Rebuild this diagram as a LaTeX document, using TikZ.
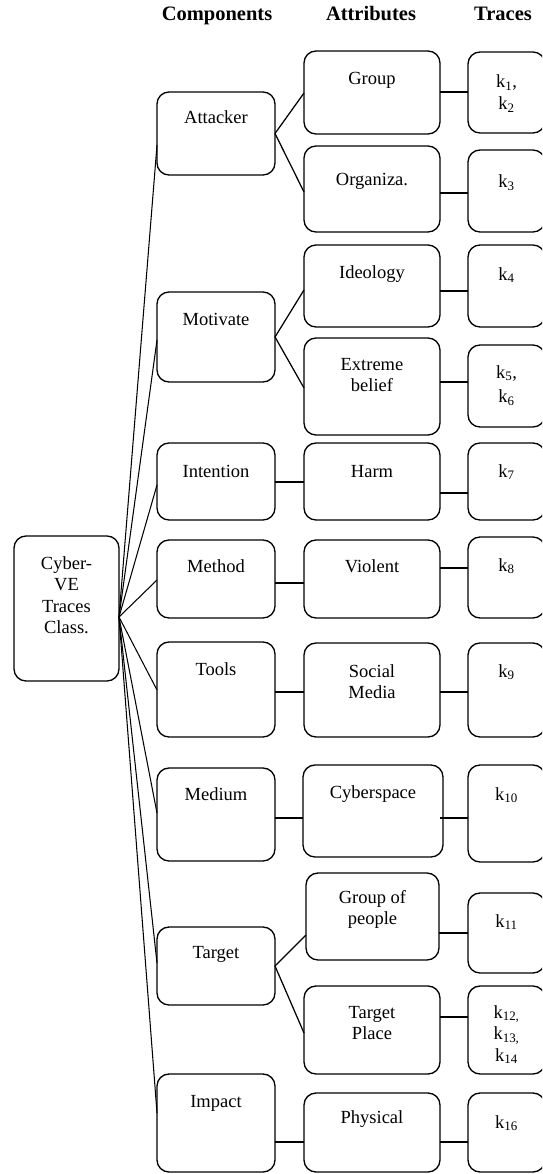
\documentclass[tikz,border=0pt]{standalone}
\usepackage{fontspec}
\setmainfont{Liberation Serif}
\usetikzlibrary{calc}

% box body: width, height, depth of first baseline, text (top aligned, centred)
\newcommand\cellbox[4]{\parbox[c][#2pt][t]{#1pt}{\centering\rule{0pt}{#3pt}#4\par}}
\newcommand\kk[1]{k\textsubscript{#1}}

\tikzset{
  every node/.style={font=\fontsize{18.5}{21.5}\selectfont},
  cell/.style={draw, rounded corners=12pt, line width=1.35pt, inner sep=0pt, outer sep=0pt},
  head/.style={font=\fontsize{20.5}{24}\selectfont\bfseries, anchor=base, inner sep=0pt},
  spoke/.style={line width=1.05pt},
  branch/.style={line width=1.25pt},
  tie/.style={line width=2.3pt},
}

\begin{document}
\begin{tikzpicture}[x=1pt,y=-1pt]
\useasboundingbox (0,0) rectangle (542,1174);
\clip (0,0) rectangle (542,1174);

% column headings
\node[head] (hC) at (217,21) {Components};
\node[head] (hA) at (371,21) {Attributes};
\node[head] (hT) at (503,21) {Traces};

% root
\node[cell] (root) at (66.5,608.5) {\cellbox{105}{145}{33}{Cyber-\\VE\\Traces\\Class.}};

% components
\node[cell] (att)   at (216,133.5) {\cellbox{118}{83}{32}{Attacker}};
\node[cell] (mot)   at (216,337)   {\cellbox{118}{90}{33}{Motivate}};
\node[cell] (int)   at (216,481.5) {\cellbox{118}{77}{34}{Intention}};
\node[cell] (meth)  at (216,579)   {\cellbox{118}{78}{32}{Method}};
\node[cell] (tools) at (216,689.5) {\cellbox{118}{95}{33}{Tools}};
\node[cell] (med)   at (216,814.5) {\cellbox{118}{93}{32}{Medium}};
\node[cell] (tgt)   at (216,966)   {\cellbox{118}{78}{31}{Target}};
\node[cell] (imp)   at (216,1123)  {\cellbox{118}{98}{33}{Impact}};

% attributes
\node[cell] (grp)  at (372,92.5)   {\cellbox{136}{83}{34}{Group}};
\node[cell] (org)  at (372,189)    {\cellbox{136}{86}{40}{Organiza.}};
\node[cell] (ideo) at (372,286)    {\cellbox{136}{82}{33}{Ideology}};
\node[cell] (ext)  at (372,386.5)  {\cellbox{136}{97}{32}{Extreme\\belief}};
\node[cell] (harm) at (372,481.5)  {\cellbox{136}{77}{34}{Harm}};
\node[cell] (viol) at (372,579)    {\cellbox{136}{78}{32}{Violent}};
\node[cell] (soc)  at (372,690)    {\cellbox{136}{94}{34}{Social\\Media}};
\node[cell] (cyb)  at (373,811)    {\cellbox{140}{92}{33}{Cyberspace}};
\node[cell] (gop)  at (372.5,916.5){\cellbox{133}{87}{30}{Group of\\people}};
\node[cell] (tp)   at (372,1030)   {\cellbox{136}{88}{32}{Target\\Place}};
\node[cell] (phys) at (372,1132.5) {\cellbox{136}{79}{30}{Physical}};

% traces
\node[cell] (t12)   at (506.5,92.5)   {\cellbox{77}{81}{36}{\kk{1},\\\kk{2}}};
\node[cell] (t3)    at (506.5,191)    {\cellbox{77}{82}{38}{\kk{3}}};
\node[cell] (t4)    at (506.5,286)    {\cellbox{77}{82}{35}{\kk{4}}};
\node[cell] (t56)   at (506.5,386)    {\cellbox{77}{82}{33}{\kk{5},\\[3pt]\kk{6}}};
\node[cell] (t7)    at (506.5,481.5)  {\cellbox{77}{77}{34}{\kk{7}}};
\node[cell] (t8)    at (506.5,577.5)  {\cellbox{77}{81}{34}{\kk{8}}};
\node[cell] (t9)    at (506.5,690)    {\cellbox{77}{94}{34}{\kk{9}}};
\node[cell] (t10)   at (506.5,813.5)  {\cellbox{77}{97}{35}{\kk{10}}};
\node[cell] (t11)   at (506.5,933)    {\cellbox{77}{80}{34}{\kk{11}}};
\node[cell] (t1214) at (506.5,1030)   {\cellbox{77}{88}{32}{\kk{12,}\\\kk{13,}\\\kk{14}}};
\node[cell] (t16)   at (506.5,1132.5) {\cellbox{77}{79}{35}{\kk{16}}};

% spokes from the root
\coordinate (hub) at ($(root.east)+(0,8.5)$);
\draw[spoke] (hub) -- (att.west |- 0,145);
\draw[spoke] (hub) -- (mot.west |- 0,340);
\draw[spoke] (hub) -- (int.west |- 0,485);
\draw[spoke] (hub) -- (meth.west |- 0,580);
\draw[spoke] (hub) -- (tools.west |- 0,690);
\draw[spoke] (hub) -- (med.west |- 0,813);
\draw[spoke] (hub) -- (tgt.west |- 0,963);
\draw[spoke] (hub) -- (imp.west |- 0,1113);

% component branches
\draw[branch] (att.east) -- (grp.west |- 0,93);
\draw[branch] (att.east) -- (org.west |- 0,192);
\draw[branch] (mot.east) -- (ideo.west |- 0,290);
\draw[branch] (mot.east) -- (ext.west |- 0,388);
\draw[branch] (tgt.east) -- (gop.west |- 0,935);
\draw[branch] (tgt.east) -- (tp.west |- 0,1033);

% straight ties component -> attribute
\draw[tie] (int.east |- 0,482)   -- (harm.west |- 0,482);
\draw[tie] (meth.east |- 0,583)  -- (viol.west |- 0,583);
\draw[tie] (tools.east |- 0,692) -- (soc.west |- 0,692);
\draw[tie] (med.east |- 0,818)   -- (cyb.west |- 0,818);
\draw[tie] (imp.east |- 0,1142)  -- (phys.west |- 0,1142);

% ties attribute -> trace
\draw[tie] (grp.east |- 0,92)    -- (t12.west |- 0,92);
\draw[tie] (org.east |- 0,193)   -- (t3.west |- 0,193);
\draw[tie] (ideo.east |- 0,291)  -- (t4.west |- 0,291);
\draw[tie] (ext.east |- 0,382)   -- (t56.west |- 0,382);
\draw[tie] (harm.east |- 0,493)  -- (t7.west |- 0,493);
\draw[tie] (viol.east |- 0,568)  -- (t8.west |- 0,568);
\draw[tie] (soc.east |- 0,692)   -- (t9.west |- 0,692);
\draw[tie] ($(cyb.east |- 0,818)+(-3,0)$) -- (t10.west |- 0,818);
\draw[tie] (gop.east |- 0,933)   -- (t11.west |- 0,933);
\draw[tie] (tp.east |- 0,1017)   -- (t1214.west |- 0,1017);
\draw[tie] (phys.east |- 0,1142) -- (t16.west |- 0,1142);
\end{tikzpicture}
\end{document}
